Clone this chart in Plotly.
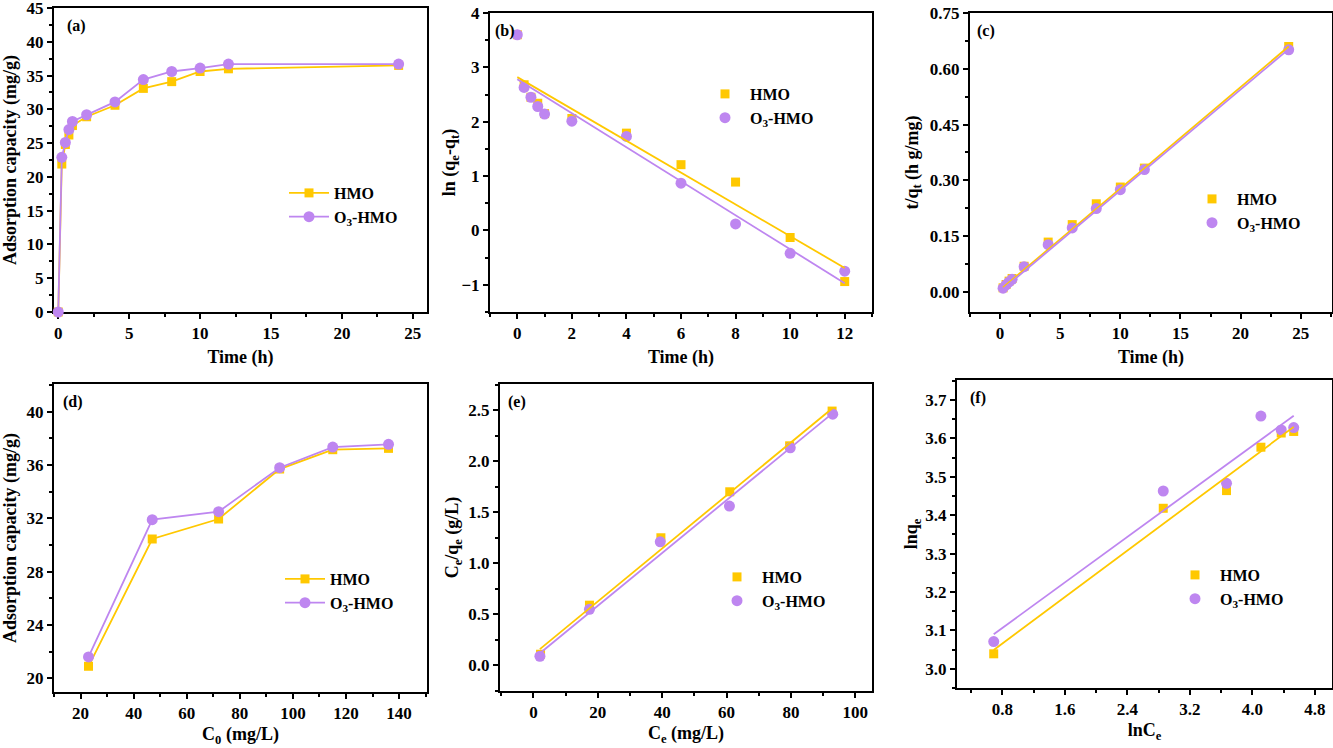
import plotly.graph_objects as go

W, H = 1333, 748
YEL = "#FFC800"
PUR = "#BE86F0"
FONT = "Liberation Serif"

# ---- (a) adsorption kinetics
t_a = [0, 0.25, 0.5, 0.75, 1, 2, 4, 6, 8, 10, 12, 24]
qa_hmo = [0, 21.9, 24.8, 26.2, 27.6, 28.9, 30.6, 33.1, 34.1, 35.6, 36.0, 36.5]
qa_o3 = [0, 22.9, 25.1, 27.0, 28.2, 29.2, 31.1, 34.4, 35.6, 36.1, 36.7, 36.7]

# ---- (b) pseudo-first-order
t_b = [0, 0.25, 0.5, 0.75, 1, 2, 4, 6, 8, 10, 12]
lnb_hmo = [3.60, 2.68, 2.45, 2.34, 2.15, 2.06, 1.79, 1.21, 0.89, -0.13, -0.94]
lnb_o3 = [3.60, 2.63, 2.45, 2.28, 2.14, 2.01, 1.73, 0.87, 0.12, -0.42, -0.75]
fit_b_x = [0, 12]
fit_b_hmo = [2.82, -0.69]
fit_b_o3 = [2.78, -0.97]

# ---- (c) pseudo-second-order
t_c = [0.25, 0.5, 0.75, 1, 2, 4, 6, 8, 10, 12, 24]
tq_hmo = [0.011, 0.020, 0.029, 0.036, 0.069, 0.134, 0.181, 0.237, 0.282, 0.333, 0.660]
tq_o3 = [0.010, 0.019, 0.027, 0.034, 0.068, 0.127, 0.172, 0.224, 0.275, 0.329, 0.651]
fit_c_x = [0.25, 24]
fit_c_hmo = [0.012, 0.660]
fit_c_o3 = [0.008, 0.653]

# ---- (d) isotherm
c0 = [23, 47, 72, 95, 115, 136]
qd_hmo = [20.9, 30.45, 31.95, 35.7, 37.15, 37.25]
qd_o3 = [21.6, 31.9, 32.5, 35.8, 37.35, 37.55]

# ---- (e) Langmuir
ce_hmo = [2.2, 17.4, 39.6, 61.0, 79.6, 92.8]
ce_o3 = [2.0, 17.4, 39.4, 60.9, 79.8, 93.0]
cq_hmo = [0.11, 0.59, 1.25, 1.70, 2.15, 2.49]
cq_o3 = [0.09, 0.55, 1.21, 1.56, 2.13, 2.46]
fit_e_x = [2, 93]
fit_e_hmo = [0.16, 2.52]
fit_e_o3 = [0.12, 2.47]

# ---- (f) Freundlich
lnce = [0.69, 2.86, 3.67, 4.11, 4.37, 4.53]
lnq_hmo = [3.039, 3.418, 3.464, 3.577, 3.614, 3.618]
lnq_o3 = [3.071, 3.463, 3.483, 3.658, 3.622, 3.628]
fit_f_x = [0.69, 4.53]
fit_f_hmo = [3.049, 3.630]
fit_f_o3 = [3.090, 3.659]

# panel boxes in px: left, top, right, bottom
boxes = [(54, 8, 427, 312), (490, 13, 872, 312), (970, 13, 1332, 312),
         (54, 384, 427, 692), (500, 384, 872, 691), (957, 380, 1332, 688)]
# panel label offsets from top-left corner (px)
lab_dx = [11, 3, 5, 7, 6, 11]
# title standoffs (x, y)
stand = [(8, 8), (8, 1), (8, 7), (5, 9), (5, 5), (5, 3)]

fig = go.Figure()


def add(n, x, y, color, symbol, name, mode, leg=True, size=10):
    fig.add_trace(go.Scatter(
        x=x, y=y, mode=mode, name=name, cliponaxis=False,
        xaxis="x" if n == 1 else "x%d" % n, yaxis="y" if n == 1 else "y%d" % n,
        legend="legend" if n == 1 else "legend%d" % n, showlegend=leg,
        line=dict(color=color, width=1.8),
        marker=dict(color=color, symbol=symbol, size=size)))


h_name = "HMO"
o_name = "O<sub>3</sub>-HMO"

add(1, t_a, qa_hmo, YEL, "square", h_name, "lines+markers", size=9)
add(1, t_a, qa_o3, PUR, "circle", o_name, "lines+markers", size=11)

add(2, t_b, lnb_hmo, YEL, "square", h_name, "markers", size=9)
add(2, t_b, lnb_o3, PUR, "circle", o_name, "markers", size=11)
add(2, fit_b_x, fit_b_hmo, YEL, "square", h_name, "lines", leg=False)
add(2, fit_b_x, fit_b_o3, PUR, "circle", o_name, "lines", leg=False)

add(3, t_c, tq_hmo, YEL, "square", h_name, "markers", size=9)
add(3, t_c, tq_o3, PUR, "circle", o_name, "markers", size=11)
add(3, fit_c_x, fit_c_hmo, YEL, "square", h_name, "lines", leg=False)
add(3, fit_c_x, fit_c_o3, PUR, "circle", o_name, "lines", leg=False)

add(4, c0, qd_hmo, YEL, "square", h_name, "lines+markers", size=9)
add(4, c0, qd_o3, PUR, "circle", o_name, "lines+markers", size=11)

add(5, ce_hmo, cq_hmo, YEL, "square", h_name, "markers", size=9)
add(5, ce_o3, cq_o3, PUR, "circle", o_name, "markers", size=11)
add(5, fit_e_x, fit_e_hmo, YEL, "square", h_name, "lines", leg=False)
add(5, fit_e_x, fit_e_o3, PUR, "circle", o_name, "lines", leg=False)

add(6, lnce, lnq_hmo, YEL, "square", h_name, "markers", size=9)
add(6, lnce, lnq_o3, PUR, "circle", o_name, "markers", size=11)
add(6, fit_f_x, fit_f_hmo, YEL, "square", h_name, "lines", leg=False)
add(6, fit_f_x, fit_f_o3, PUR, "circle", o_name, "lines", leg=False)

# axis settings: (range, dtick, minor dtick, format, title)
xs = [([-0.3, 26], 5, 2.5, "", "Time (h)"),
      ([-1, 13], 2, 1, "", "Time (h)"),
      ([-2.5, 27.6], 5, 2.5, "", "Time (h)"),
      ([10, 150.5], 20, 10, "", "C<sub>0</sub> (mg/L)"),
      ([-10.4, 105.2], 20, 10, "", "C<sub>e</sub> (mg/L)"),
      ([0.22, 5.02], 0.8, 0.4, ".1f", "lnC<sub>e</sub>")]
ys = [([0, 45], 5, 2.5, "", "Adsorption capacity (mg/g)"),
      ([-1.5, 4], 1, 0.5, "", "ln (q<sub>e</sub>-q<sub>t</sub>)"),
      ([-0.054, 0.75], 0.15, 0.075, ".2f", "t/q<sub>t</sub> (h g/mg)"),
      ([18.97, 42.08], 4, 2, "", "Adsorption capacity (mg/g)"),
      ([-0.25, 2.755], 0.5, 0.25, ".1f", "C<sub>e</sub>/q<sub>e</sub> (g/L)"),
      ([2.95, 3.752], 0.1, 0.05, ".1f", "lnq<sub>e</sub>")]

tickfont = dict(family=FONT, size=17, color="black", weight="bold")
titlefont = dict(family=FONT, size=18, color="black", weight="bold")

# legend anchor points: marker centre x, centre y of both entries (px)
legpos = [(307, 205), (723, 106), (1210, 211), (303, 591), (735, 589), (1193, 587)]

layout = dict(width=W, height=H, margin=dict(l=0, r=0, t=0, b=0, autoexpand=False),
              paper_bgcolor="white", plot_bgcolor="white", annotations=[])

for i in range(6):
    n = i + 1
    l, t, r, b = boxes[i]
    sx = "" if n == 1 else str(n)
    xr, xd, xm, xf, xt = xs[i]
    yr, yd, ym, yf, yt = ys[i]
    common = dict(showline=True, linecolor="black", linewidth=2, mirror=True,
                  ticks="outside", ticklen=5, tickwidth=2, tickcolor="black",
                  showgrid=False, zeroline=False, tickfont=tickfont,
                  layer="below traces", automargin=False, ticklabeloverflow="allow")
    layout["xaxis" + sx] = dict(common, domain=[l / W, r / W], range=xr, dtick=xd,
                                tick0=0, tickformat=xf, anchor="y" + sx,
                                minor=dict(dtick=xm, ticks="outside", ticklen=3,
                                           tickwidth=1.5, tickcolor="black"),
                                title=dict(text=xt, font=titlefont, standoff=stand[i][0]))
    layout["yaxis" + sx] = dict(common, domain=[1 - b / H, 1 - t / H], range=yr, dtick=yd,
                                tick0=0, tickformat=yf, anchor="x" + sx,
                                minor=dict(dtick=ym, ticks="outside", ticklen=3,
                                           tickwidth=1.5, tickcolor="black"),
                                title=dict(text=yt, font=titlefont, standoff=stand[i][1]))
    mx, my = legpos[i]
    layout["legend" + sx] = dict(x=(mx - 23) / W, y=1 - (my - 29) / H,
                                 xanchor="left", yanchor="top", bgcolor="rgba(0,0,0,0)",
                                 font=dict(family=FONT, size=16, color="black", weight="bold"),
                                 tracegroupgap=0, itemwidth=40)
    layout["annotations"].append(dict(
        text="(%s)" % "abcdef"[i], xref="x%s domain" % sx, yref="y%s domain" % sx,
        x=0, y=1, xanchor="left", yanchor="top", xshift=lab_dx[i], yshift=-7,
        showarrow=False,
        font=dict(family=FONT, size=16, color="black", weight="bold")))

fig.update_layout(**layout)
fig.write_html("out.html", config={"displayModeBar": False},
               post_script="document.body.style.margin='0';")
